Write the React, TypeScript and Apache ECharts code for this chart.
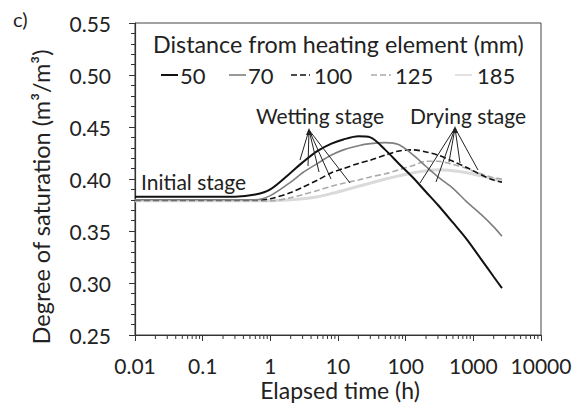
import React, { useEffect, useRef } from "react";
import * as echarts from "echarts";

// Elapsed time (h) sampling grid
const timeH = [0.01, 0.03, 0.1, 0.3, 0.6, 1, 2, 3, 5, 8, 12, 20, 30, 50, 80, 130, 200, 300, 500, 800, 1300, 2000, 2650];
// Degree of saturation for each distance from heating element
const sat50 = [0.383, 0.383, 0.383, 0.383, 0.385, 0.39, 0.406, 0.416, 0.427, 0.434, 0.438, 0.441, 0.44, 0.428, 0.4145, 0.401, 0.3875, 0.375, 0.358, 0.342, 0.323, 0.306, 0.295];
const sat70 = [0.38, 0.38, 0.38, 0.38, 0.38, 0.384, 0.397, 0.406, 0.415, 0.423, 0.428, 0.432, 0.434, 0.435, 0.433, 0.423, 0.412, 0.402, 0.391, 0.378, 0.366, 0.354, 0.345];
const sat100 = [0.38, 0.38, 0.38, 0.38, 0.38, 0.381, 0.387, 0.392, 0.399, 0.406, 0.41, 0.415, 0.418, 0.423, 0.427, 0.428, 0.426, 0.423, 0.417, 0.411, 0.404, 0.399, 0.397];
const sat125 = [0.379, 0.379, 0.379, 0.379, 0.379, 0.379, 0.382, 0.385, 0.389, 0.393, 0.396, 0.399, 0.402, 0.405, 0.409, 0.413, 0.417, 0.417, 0.414, 0.41, 0.405, 0.401, 0.4];
const sat185 = [0.379, 0.379, 0.379, 0.379, 0.379, 0.379, 0.38, 0.381, 0.383, 0.386, 0.389, 0.393, 0.396, 0.4, 0.403, 0.406, 0.408, 0.409, 0.408, 0.406, 0.403, 0.4, 0.398];

const seriesNames = ["50", "70", "100", "125", "185"];
const xTickLabels = ["0.01", "0.1", "1", "10", "100", "1000", "10000"];
const decades = [0.01, 0.1, 1, 10, 100, 1000];

const FONT = "Lato";

function pairs(vals: number[]) {
  return timeH.map((t, i) => [t, vals[i]]);
}

export default function App() {
  const ref = useRef<HTMLDivElement>(null);
  useEffect(() => {
    if (!ref.current) return;
    const chart = echarts.init(ref.current, undefined, { renderer: "svg" });
    const minorTicks: number[][] = [];
    decades.forEach((d) => {
      for (let k = 2; k <= 9; k++) minorTicks.push([k * d, 0.25]);
    });

    const styles = [
      { color: "#111", width: 2, dash: null as any },
      { color: "#7f7f7f", width: 1.6, dash: null as any },
      { color: "#111", width: 1.6, dash: [6, 3] },
      { color: "#ababab", width: 1.6, dash: [6, 3] },
      { color: "#dadada", width: 3, dash: null as any },
    ];
    const data = [sat50, sat70, sat100, sat125, sat185];

    const lineSeries = data.map((vals, i) => ({
      name: seriesNames[i],
      type: "line",
      data: pairs(vals),
      symbol: "none",
      smooth: 0.3,
      lineStyle: { color: styles[i].color, width: styles[i].width, type: styles[i].dash ?? "solid" },
      itemStyle: { color: styles[i].color },
      z: 10 - i,
    }));

    // Legend layout (pixel positions of each key)
    const legendIconX = [[161, 178], [229, 246], [291, 310], [371, 391], [455, 472]];
    const legendTextX = [180, 248, 314, 395, 477];
    const legendY = 75;
    const legendEls: any[] = [];
    seriesNames.forEach((n, i) => {
      legendEls.push({
        type: "line",
        shape: { x1: legendIconX[i][0], y1: legendY, x2: legendIconX[i][1], y2: legendY },
        style: { stroke: styles[i].color, lineWidth: i === 0 ? 2 : 1.6, lineDash: styles[i].dash ?? undefined },
        z: 100,
      });
      legendEls.push({
        type: "text",
        x: legendTextX[i],
        y: legendY,
        style: { text: n, fontSize: 22, fontFamily: FONT, fill: "#222", align: "left", verticalAlign: "middle" },
        z: 100,
      });
    });

    const wetOrigin = [309, 130];
    const wetEnds = [[300, 160], [308, 166], [319, 172], [331, 179], [350, 183]];
    const dryOrigin = [455, 128];
    const dryEnds = [[420, 183], [436, 182], [449, 162], [460, 163], [478, 170]];

    const arrowGroup = (o: number[], ends: number[][]) => [
      ...ends.map((e) => ({
        type: "line",
        shape: { x1: o[0], y1: o[1], x2: e[0], y2: e[1] },
        style: { stroke: "#222", lineWidth: 1 },
        z: 100,
      })),
      {
        type: "polygon",
        shape: { points: [[o[0], o[1] - 2], [o[0] - 3, o[1] + 5], [o[0] + 3, o[1] + 5]] },
        style: { fill: "#222" },
        z: 100,
      },
    ];

    const text = (t: string, x: number, y: number, size: number, align = "left", rotation = 0) => ({
      type: "text",
      x,
      y,
      rotation,
      style: { text: t, fontSize: size, fontFamily: FONT, fill: "#222", align, verticalAlign: "middle" },
      z: 100,
    });

    chart.setOption({
      animation: false,
      backgroundColor: "#fff",
      grid: {
        left: 135,
        right: 38,
        top: 23,
        bottom: 69,
        show: true,
        borderColor: "#444",
        borderWidth: 1,
        containLabel: false,
        outerBoundsMode: "none",
      },
      xAxis: {
        type: "log",
        logBase: 10,
        min: 0.01,
        max: 10000,
        axisLine: { lineStyle: { color: "#333", width: 1.2 } },
        axisTick: { show: true, length: 6, inside: false, lineStyle: { color: "#333" } },
        splitLine: { show: false },
        axisLabel: {
          margin: 20,
          fontSize: 21,
          fontFamily: FONT,
          color: "#222",
          formatter: (v: number) => {
            const idx = Math.round(Math.log10(v)) + 2;
            return xTickLabels[idx] ?? String(v);
          },
        },
      },
      yAxis: {
        type: "value",
        min: 0.25,
        max: 0.55,
        interval: 0.05,
        axisLine: { show: true, lineStyle: { color: "#333", width: 1.2 } },
        axisTick: { show: true, length: 6, inside: false, lineStyle: { color: "#333" } },
        minorTick: { show: true, splitNumber: 5, length: 4, lineStyle: { color: "#333" } },
        splitLine: { show: false },
        axisLabel: {
          margin: 24,
          fontSize: 21,
          fontFamily: FONT,
          color: "#222",
          formatter: (v: number) => v.toFixed(2),
        },
      },
      series: [
        ...lineSeries,
        {
          type: "custom",
          name: "minorTicks",
          data: minorTicks,
          clip: false,
          silent: true,
          renderItem: (params: any, api: any) => {
            const p = api.coord([api.value(0), api.value(1)]);
            return {
              type: "line",
              shape: { x1: p[0], y1: p[1], x2: p[0], y2: p[1] + 4 },
              style: { stroke: "#333", lineWidth: 1 },
            };
          },
          z: 5,
        },
      ],
      graphic: [
        text("c)", 13, 19, 20),
        text("Degree of saturation (m\u00b3/m\u00b3)", 41, 197, 23.5, "center", Math.PI / 2),
        text("Elapsed time (h)", 340, 390, 23, "center"),
        text("Distance from heating element (mm)", 153, 44, 23.3),
        text("Initial stage", 141, 181, 21),
        text("Wetting stage", 320, 115, 21, "center"),
        text("Drying stage", 468, 115, 21, "center"),
        ...legendEls,
        ...arrowGroup(wetOrigin, wetEnds),
        ...arrowGroup(dryOrigin, dryEnds),
      ],
    });
    return () => chart.dispose();
  }, []);
  return <div ref={ref} style={{ width: 579, height: 404, position: "absolute", left: 0, top: 0 }} />;
}
